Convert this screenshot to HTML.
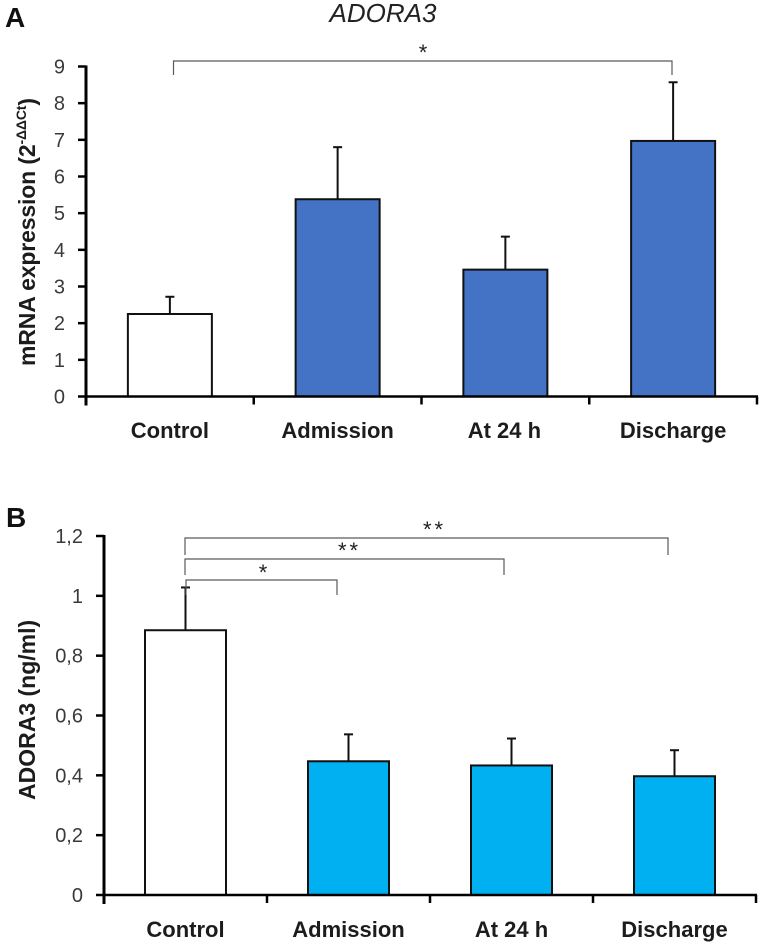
<!DOCTYPE html>
<html>
<head>
<meta charset="utf-8">
<style>
html,body{margin:0;padding:0;background:#fff}
svg{display:block}
text{font-family:"Liberation Sans",sans-serif}
</style>
</head>
<body>
<svg id="c" width="762" height="944" viewBox="0 0 762 944" xmlns="http://www.w3.org/2000/svg"></svg>
<script>
const categoriesA = ['Control', 'Admission', 'At 24 h', 'Discharge'];
const valuesA = [2.25, 5.38, 3.46, 6.97];
const errorsA = [0.47, 1.42, 0.9, 1.6];
const ticksA = [0, 1, 2, 3, 4, 5, 6, 7, 8, 9];
const tickLabelsA = ['0', '1', '2', '3', '4', '5', '6', '7', '8', '9'];

const categoriesB = ['Control', 'Admission', 'At 24 h', 'Discharge'];
const valuesB = [0.885, 0.447, 0.433, 0.397];
const errorsB = [0.143, 0.09, 0.09, 0.087];
const ticksB = [0, 0.2, 0.4, 0.6, 0.8, 1, 1.2];
const tickLabelsB = ['0', '0,2', '0,4', '0,6', '0,8', '1', '1,2'];

const NS = 'http://www.w3.org/2000/svg';
const svg = document.getElementById('c');

function mk(tag, attrs, name, parent, txt) {
  const el = document.createElementNS(NS, tag);
  for (const k in attrs) el.setAttribute(k, attrs[k]);
  
  
  if (txt !== undefined) el.textContent = txt;
  (parent || svg).appendChild(el);
  return el;
}

function drawPanel(cfg) {
  const g = mk('g', {}, cfg.name);
  const y = v => cfg.y0 + (cfg.yTop - cfg.y0) * (v - cfg.min) / (cfg.max - cfg.min);
  const band = (cfg.xEnd - cfg.x0) / cfg.categories.length;
  const cx = i => cfg.x0 + band * (i + 0.5) + cfg.barShift;

  cfg.values.forEach((v, i) => {
    const top = y(v);
    const errTop = y(v + cfg.errors[i]);
    mk('line', {x1: cx(i), x2: cx(i), y1: top, y2: errTop, stroke: '#111', 'stroke-width': 2}, 'error-bar-' + i, g);
    mk('line', {x1: cx(i) - 4.5, x2: cx(i) + 4.5, y1: errTop, y2: errTop, stroke: '#111', 'stroke-width': 2}, 'error-cap-' + i, g);
    mk('rect', {x: cx(i) - cfg.barW / 2, y: top, width: cfg.barW, height: cfg.y0 - top,
      fill: i === 0 ? '#ffffff' : cfg.color, stroke: '#111', 'stroke-width': 2}, 'bar-' + i, g);
    mk('text', {x: cx(i) + cfg.labelShift[i], y: cfg.labelY, 'text-anchor': 'middle', 'font-size': 22,
      'font-weight': 'bold', fill: '#1c1c1c'}, 'category-label-' + i, g, cfg.categories[i]);
  });

  mk('line', {x1: cfg.x0, x2: cfg.x0, y1: cfg.yTop - 1, y2: cfg.y0 + 9, stroke: '#000', 'stroke-width': 3}, 'y-axis', g);
  mk('line', {x1: cfg.x0 - 1, x2: cfg.xEnd + 1, y1: cfg.y0, y2: cfg.y0, stroke: '#000', 'stroke-width': 2.5}, 'x-axis', g);
  for (let i = 1; i <= cfg.categories.length; i++) {
    const tx = cfg.x0 + band * i;
    mk('line', {x1: tx, x2: tx, y1: cfg.y0, y2: cfg.y0 + 8, stroke: '#000', 'stroke-width': 2.5}, 'x-tick-' + i, g);
  }
  cfg.ticks.forEach((t, i) => {
    mk('line', {x1: cfg.x0 - 8, x2: cfg.x0, y1: y(t), y2: y(t), stroke: '#000', 'stroke-width': 2.5}, 'y-tick-' + i, g);
    mk('text', {x: cfg.x0 - 21, y: y(t) + 7, 'text-anchor': 'end', 'font-size': 20, fill: '#3a3a3a'}, 'y-tick-label-' + i, g, cfg.tickLabels[i]);
  });
  return g;
}

function bracket(x1, x2, yy, drop, label, lx, ly, name) {
  const g = mk('g', {}, name);
  mk('path', {d: `M${x1} ${yy + drop}V${yy}H${x2}V${yy + drop}`, fill: 'none', stroke: '#5a5a5a', 'stroke-width': 1.2}, name + '-line', g);
  mk('text', {x: lx, y: ly, 'text-anchor': 'middle', 'font-size': 22, 'letter-spacing': 3, fill: '#222'}, name + '-stars', g, label);
}

mk('text', {x: 5, y: 27, 'font-size': 28, 'font-weight': 'bold', fill: '#111'}, 'panel-a-label', svg, 'A');
mk('text', {x: 383, y: 22, 'text-anchor': 'middle', 'font-size': 26, 'font-style': 'italic', fill: '#222'}, 'chart-title', svg, 'ADORA3');
mk('text', {x: 6, y: 527, 'font-size': 28, 'font-weight': 'bold', fill: '#111'}, 'panel-b-label', svg, 'B');

drawPanel({name: 'panel-a', categories: categoriesA, values: valuesA, errors: errorsA, ticks: ticksA, tickLabels: tickLabelsA,
  min: 0, max: 9, y0: 396.5, yTop: 66.5, x0: 86, xEnd: 757, barW: 84, barShift: 0, color: '#4472c4', labelY: 438,
  labelShift: [0, 0, -1, 0]});
drawPanel({name: 'panel-b', categories: categoriesB, values: valuesB, errors: errorsB, ticks: ticksB, tickLabels: tickLabelsB,
  min: 0, max: 1.2, y0: 895, yTop: 536, x0: 104, xEnd: 756, barW: 81, barShift: 0, color: '#00b0f0', labelY: 937,
  labelShift: [0, 0, 0, 0]});

bracket(173.5, 672, 61, 14, '*', 424.5, 60, 'significance-a');
bracket(185, 668, 538, 17, '**', 434.5, 537, 'significance-b-discharge');
bracket(185, 504, 559, 16, '**', 349.5, 558, 'significance-b-24h');
bracket(186, 337, 580, 15, '*', 264.5, 580, 'significance-b-admission');

const yA = mk('text', {transform: 'translate(35,366) rotate(-90)', 'font-size': 23, 'font-weight': 'bold', fill: '#1c1c1c', 'textLength': 268}, 'y-axis-title-a', svg);
yA.appendChild(document.createTextNode('mRNA expression (2'));
const sup = mk('tspan', {dy: -9, 'font-size': 14}, 'y-axis-title-a-exponent', yA, '-ΔΔCt');
const close = mk('tspan', {dy: 9}, 'y-axis-title-a-close', yA, ')');
mk('text', {transform: 'translate(35,800) rotate(-90)', 'font-size': 23, 'font-weight': 'bold', fill: '#1c1c1c'}, 'y-axis-title-b', svg, 'ADORA3 (ng/ml)');
</script>
</body>
</html>
